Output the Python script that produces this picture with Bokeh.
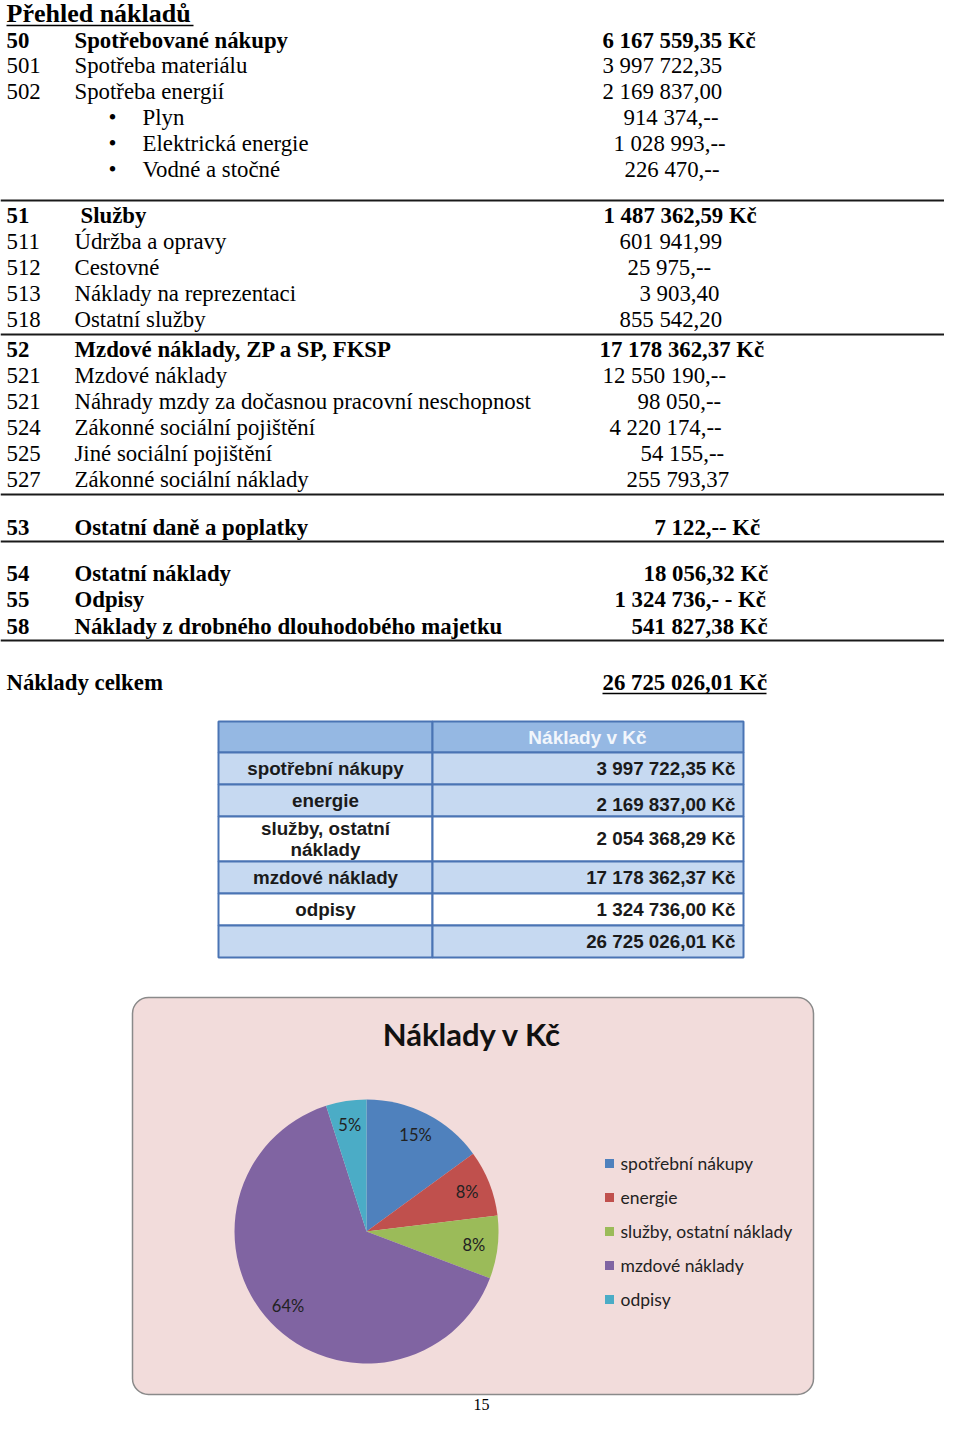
import math
from bokeh.plotting import figure
from bokeh.models import Range1d
from bokeh.core.properties import value
from bokeh.embed import file_html
from bokeh.resources import INLINE

# ---------------- data ----------------
page_title = "Přehled nákladů"
codes = ["50", "501", "502", "", "", "", "51", "511", "512", "513", "518",
         "52", "521", "521", "524", "525", "527", "53", "54", "55", "58"]
names = ["Spotřebované nákupy", "Spotřeba materiálu", "Spotřeba energií",
         "Plyn", "Elektrická energie", "Vodné a stočné",
         "Služby", "Údržba a opravy", "Cestovné", "Náklady na reprezentaci", "Ostatní služby",
         "Mzdové náklady, ZP a SP, FKSP", "Mzdové náklady",
         "Náhrady mzdy za dočasnou pracovní neschopnost", "Zákonné sociální pojištění",
         "Jiné sociální pojištění", "Zákonné sociální náklady",
         "Ostatní daně a poplatky", "Ostatní náklady", "Odpisy",
         "Náklady z drobného dlouhodobého majetku"]
amounts = ["6 167 559,35 Kč", "3 997 722,35", "2 169 837,00", "914 374,--", "1 028 993,--",
           "226 470,--", "1 487 362,59 Kč", "601 941,99", "25 975,--", "3 903,40", "855 542,20",
           "17 178 362,37 Kč", "12 550 190,--", "98 050,--", "4 220 174,--", "54 155,--",
           "255 793,37", "7 122,-- Kč", "18 056,32 Kč", "1 324 736,- - Kč", "541 827,38 Kč"]
total_label = "Náklady celkem"
total_amount = "26 725 026,01 Kč"

categories = ["spotřební nákupy", "energie", "služby, ostatní náklady", "mzdové náklady", "odpisy"]
table_labels = ["spotřební nákupy", "energie", "služby, ostatní\nnáklady", "mzdové náklady", "odpisy"]
costs = [3997722.35, 2169837.00, 2054368.29, 17178362.37, 1324736.00]
table_header = "Náklady v Kč"
chart_title = "Náklady v Kč"
page_number = "15"

# ---------------- layout / style ----------------
row_y = [40, 65, 91, 117, 143, 169, 215, 241, 267, 293, 319, 349, 375, 401, 427, 453, 479,
         527, 573, 599, 626]
amount_x = [602, 602, 602, 623, 613, 624, 603, 619, 627, 639, 619, 599, 602, 637, 609, 640,
            626, 654, 643, 614, 631]
bold_rows = {0, 6, 11, 17, 18, 19, 20}
bullet_rows = {3, 4, 5}
indent_rows = {6}
rule_y = [200, 334, 494, 541, 640]
slice_colors = ["#4F81BD", "#C0504D", "#9BBB59", "#8064A2", "#4BACC6"]

SERIF = value("Liberation Serif")
SANS = value("Liberation Sans")
CAL = value("Lato")
DOC_FS = "22.8px"

W, H = 944, 1417
p = figure(width=W, height=H, x_range=Range1d(0, W), y_range=Range1d(H, 0),
           output_backend="svg", toolbar_location=None, min_border=0)
p.axis.visible = False
p.grid.visible = False
p.outline_line_color = None
p.background_fill_color = "white"
p.border_fill_color = "white"

# ---------------- document text ----------------
p.text(x=[6], y=[13], text=[page_title], text_font=SERIF, text_font_size="26px",
       text_font_style="bold", text_baseline="middle", text_color="#000")
p.segment(x0=[6], x1=[193], y0=[25], y1=[25], line_color="#000", line_width=1.6)

def group(idx):
    return dict(codes=[codes[i] for i in idx], names=[names[i] for i in idx],
                amts=[amounts[i] for i in idx], y=[row_y[i] for i in idx],
                ax=[amount_x[i] for i in idx],
                nx=[142 if i in bullet_rows else (80 if i in indent_rows else 74) for i in idx])

for is_bold in (True, False):
    idx = [i for i in range(len(codes)) if (i in bold_rows) == is_bold]
    g = group(idx)
    style = "bold" if is_bold else "normal"
    kw = dict(text_font=SERIF, text_font_size=DOC_FS, text_font_style=style,
              text_baseline="middle", text_color="#000")
    p.text(x=[6] * len(idx), y=g["y"], text=g["codes"], **kw)
    p.text(x=g["nx"], y=g["y"], text=g["names"], **kw)
    p.text(x=g["ax"], y=g["y"], text=g["amts"], **kw)

bidx = sorted(bullet_rows)
p.text(x=[108] * len(bidx), y=[row_y[i] for i in bidx], text=["•"] * len(bidx),
       text_font=SERIF, text_font_size=DOC_FS, text_baseline="middle", text_color="#000")

p.segment(x0=[0] * len(rule_y), x1=[958] * len(rule_y), y0=rule_y, y1=rule_y,
          line_color="#1a1a1a", line_width=2)

p.text(x=[6, 602], y=[682, 682], text=[total_label, total_amount], text_font=SERIF,
       text_font_size=DOC_FS, text_font_style="bold", text_baseline="middle", text_color="#000")
p.segment(x0=[602], x1=[766], y0=[693], y1=[693], line_color="#000", line_width=1.5)

# ---------------- table ----------------
tx0, tx1, tx2 = 218, 432, 743
bounds = [721, 752, 784, 816, 861, 893, 925, 957]
fills = ["#95B8E3", "#C6D9F1", "#C6D9F1", "#FFFFFF", "#C6D9F1", "#FFFFFF", "#C6D9F1"]
n = len(bounds) - 1
p.quad(left=[tx0] * n + [tx1] * n, right=[tx1] * n + [tx2] * n,
       top=bounds[:-1] * 2, bottom=bounds[1:] * 2, fill_color=fills * 2,
       line_color="#4A74B4", line_width=2)

def czk(v):
    return f"{v:,.2f}".replace(",", " ").replace(".", ",") + " Kč"

TFS = "18.8px"
p.text(x=[587], y=[737], text=[table_header], text_font=SANS, text_font_size="19px",
       text_font_style="bold", text_align="center", text_baseline="middle", text_color="#F2F6FC")

lab_x, lab_y, lab_t = [], [], []
label_centers = [768, 800, 838, 877, 909]
for lab, cy in zip(table_labels, label_centers):
    parts = lab.split("\n")
    for k, part in enumerate(parts):
        lab_x.append(325)
        lab_y.append(cy + (k - (len(parts) - 1) / 2) * 21)
        lab_t.append(part)
p.text(x=lab_x, y=lab_y, text=lab_t, text_font=SANS, text_font_size=TFS,
       text_font_style="bold", text_align="center", text_baseline="middle", text_color="#1a1a1a")

val_y = [768, 804, 838, 877, 909, 941]
val_t = [czk(v) for v in costs] + [czk(sum(costs))]
p.text(x=[735] * len(val_t), y=val_y, text=val_t, text_font=SANS, text_font_size=TFS,
       text_font_style="bold", text_align="right", text_baseline="middle", text_color="#1a1a1a")

# ---------------- pie chart ----------------
p.quad(left=[132], right=[813], top=[997], bottom=[1394], fill_color="#F2DCDB",
       line_color="#8A8A8A", line_width=1.5, border_radius=16)
p.text(x=[472], y=[1033], text=[chart_title], text_font=CAL, text_font_size="31px",
       text_font_style="bold", text_align="center", text_baseline="middle", text_color="#111")

total = sum(costs)
fracs = [c / total for c in costs]
cum = [0.0]
for f in fracs:
    cum.append(cum[-1] + f)
cx, cy, r = 366, 1231, 132
starts = [math.pi / 2 - 2 * math.pi * c for c in cum[:-1]]
ends = [math.pi / 2 - 2 * math.pi * c for c in cum[1:]]
p.wedge(x=cx, y=cy, radius=r, radius_units="screen", start_angle=starts, end_angle=ends,
        direction="clock", fill_color=slice_colors, line_color=None)

mids = [math.pi * (cum[i] + cum[i + 1]) for i in range(len(costs))]
lx = [cx + 0.82 * r * math.sin(m) for m in mids]
ly = [cy - 0.82 * r * math.cos(m) for m in mids]
p.text(x=lx, y=ly, text=[f"{round(100 * f)}%" for f in fracs], text_font=CAL,
       text_font_size="16.5px", text_align="center", text_baseline="middle", text_color="#222")

leg_y = [1163 + 34 * i for i in range(len(categories))]
p.rect(x=[609] * len(categories), y=leg_y, width=9, height=9, fill_color=slice_colors,
       line_color=None)
p.text(x=[620] * len(categories), y=leg_y, text=categories, text_font=CAL,
       text_font_size="17.5px", text_baseline="middle", text_color="#222")

p.text(x=[481], y=[1404], text=[page_number], text_font=SERIF, text_font_size="16px",
       text_align="center", text_baseline="middle", text_color="#000")

open("out.html", "w").write(file_html(p, INLINE))
